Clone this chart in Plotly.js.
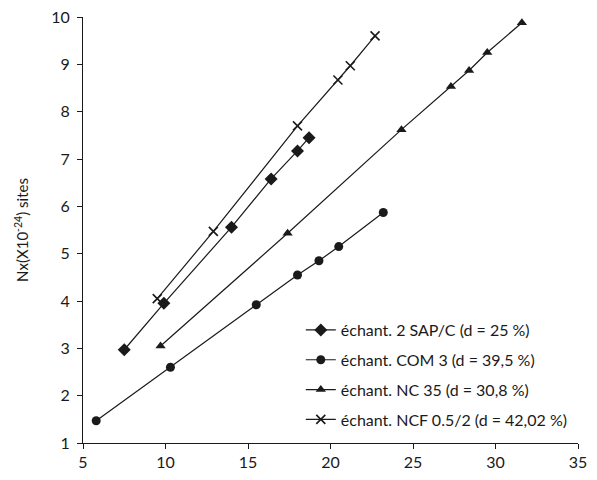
<!DOCTYPE html>
<html><head><meta charset="utf-8">
<script src="https://cdn.plot.ly/plotly-3.0.1.min.js"></script>
<style>body{margin:0;background:#fff}#c{width:597px;height:480px}</style>
</head><body><div id="c"></div>
<script>
const names = ["échant. 2 SAP/C (d = 25 %)", "échant. COM 3 (d = 39,5 %)", "échant. NC 35 (d = 30,8 %)", "échant. NCF 0.5/2 (d = 42,02 %)"];
const sapX = [7.5, 9.9, 14.0, 16.4, 18.0, 18.7];
const sapY = [2.97, 3.95, 5.56, 6.58, 7.17, 7.45];
const comX = [5.8, 10.3, 15.5, 18.0, 19.3, 20.5, 23.2];
const comY = [1.47, 2.6, 3.92, 4.55, 4.85, 5.15, 5.87];
const ncX = [9.7, 17.4, 24.3, 27.3, 28.4, 29.5, 31.6];
const ncY = [3.05, 5.43, 7.62, 8.53, 8.87, 9.25, 9.88];
const ncfX = [9.5, 12.9, 18.0, 20.45, 21.2, 22.7];
const ncfY = [4.05, 5.47, 7.7, 8.67, 8.97, 9.6];

const F = "Lato, 'Open Sans', sans-serif";
function tr(x, y, name, sym, size, g, extra) {
  return Object.assign({
    x: x, y: y, name: name, type: 'scatter', mode: 'lines+markers', legendgroup: g,
    line: {color: '#1a1a1a', width: 1.2},
    marker: {symbol: sym, size: size, color: '#1a1a1a'}
  }, extra || {});
}
const data = [
  tr(sapX, sapY, names[0], 'diamond', 10, 'a'),
  tr(comX, comY, names[1], 'circle', 9, 'b'),
  tr(ncX, ncY, names[2], 'triangle-up', 9, 'c'),
  tr(ncfX, ncfY, names[3], 'x-thin', 9, 'd', {marker: {symbol: 'x-thin', size: 9, color: '#1a1a1a', line: {color: '#1a1a1a', width: 1.6}}})
];
const layout = {
  width: 597, height: 480,
  margin: {l: 83, r: 19, t: 17, b: 37},
  paper_bgcolor: '#fff', plot_bgcolor: '#fff',
  font: {family: F, color: '#1a1a1a', size: 16},
  showlegend: true,
  legend: {x: 0.44, y: 0.305, xanchor: 'left', yanchor: 'top', bgcolor: 'rgba(0,0,0,0)',
           font: {family: F, size: 16, color: '#1a1a1a'}, tracegroupgap: 6, itemwidth: 30,
           traceorder: 'grouped'},
  xaxis: {range: [5, 35], tickvals: [5, 10, 15, 20, 25, 30, 35], showgrid: false, zeroline: false,
          showline: true, linecolor: '#1a1a1a', linewidth: 1, ticks: 'outside', ticklen: 5,
          tickcolor: '#1a1a1a', tickfont: {size: 16, family: F}},
  yaxis: {range: [1, 10], tickvals: [1,2,3,4,5,6,7,8,9,10], showgrid: false, zeroline: false,
          showline: true, linecolor: '#1a1a1a', linewidth: 1, ticks: 'outside', ticklen: 5,
          tickcolor: '#1a1a1a', tickfont: {size: 16, family: F}, ticklabelstandoff: 4,
          title: {text: 'Nx(X10<sup>-24</sup>) sites', font: {size: 15, family: F}, standoff: 18}}
};
Plotly.newPlot('c', data, layout, {displayModeBar: false});
</script></body></html>
